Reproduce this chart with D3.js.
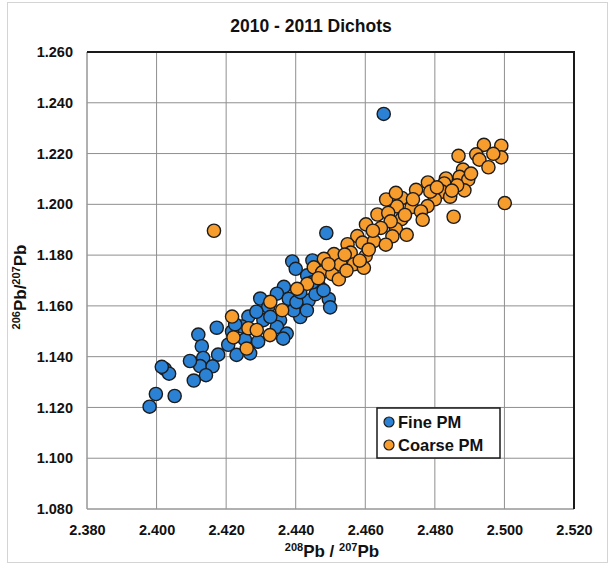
<!DOCTYPE html>
<html>
<head>
<meta charset="utf-8">
<script src="https://cdn.jsdelivr.net/npm/d3@7"></script>
<style>
  html, body { margin: 0; padding: 0; background: #fff; }
  svg { display: block; }
  text { font-family: "Liberation Sans", Arial, sans-serif; font-weight: bold; fill: #111; }
</style>
</head>
<body>
<svg id="chart" width="613" height="569"></svg>
<script>
// Pb isotope ratios, 2010 - 2011 Dichot samples
const fineX = [2.4653, 2.4488, 2.4390, 2.4400, 2.4448, 2.4433, 2.4466, 2.4366, 2.4346, 2.4298,
  2.4380, 2.4437, 2.4495, 2.4499, 2.4413, 2.4394, 2.4432, 2.4355, 2.4346, 2.4374,
  2.4364, 2.4307, 2.4264, 2.4245, 2.4173, 2.4120, 2.4130, 2.4206, 2.4230, 2.4177,
  2.4134, 2.4269, 2.4125, 2.4161, 2.4142, 2.4107, 2.4024, 2.4036, 2.4015, 2.3998,
  2.4052, 2.3980, 2.4321, 2.4287, 2.4402, 2.4457, 2.4480, 2.4327, 2.4254, 2.4292,
  2.4217, 2.4413, 2.4448, 2.4226, 2.4096];
const fineY = [1.2356, 1.1887, 1.1775, 1.1746, 1.1779, 1.1720, 1.1680, 1.1675, 1.1648, 1.1629,
  1.1628, 1.1621, 1.1627, 1.1594, 1.1556, 1.1582, 1.1582, 1.1544, 1.1517, 1.1491,
  1.1471, 1.1544, 1.1558, 1.1519, 1.1514, 1.1487, 1.1441, 1.1447, 1.1407, 1.1408,
  1.1395, 1.1413, 1.1363, 1.1362, 1.1327, 1.1306, 1.1351, 1.1333, 1.1360, 1.1253,
  1.1245, 1.1203, 1.1596, 1.1577, 1.1615, 1.1646, 1.1661, 1.1557, 1.1467, 1.1459,
  1.1499, 1.1654, 1.1693, 1.1527, 1.1383];

const coarseX = [2.4165, 2.4635, 2.4602, 2.4577, 2.4549, 2.4558, 2.4592, 2.4601, 2.4567, 2.4596,
  2.4625, 2.4510, 2.4481, 2.4452, 2.4476, 2.4505, 2.4524, 2.4433, 2.4404, 2.4327,
  2.4361, 2.4217, 2.4264, 2.4288, 2.4326, 2.4221, 2.4259, 2.4941, 2.4991, 2.4919,
  2.4928, 2.4954, 2.4991, 2.4868, 2.4881, 2.4871, 2.4896, 2.4885, 2.4864, 2.4832,
  2.4827, 2.4821, 2.4844, 2.4800, 2.4780, 2.4746, 2.4787, 2.4779, 2.4733, 2.4760,
  2.4765, 2.4705, 2.4691, 2.4704, 2.4688, 2.4719, 2.4666, 2.4660, 2.4673, 2.4678,
  2.4659, 2.4854, 2.5001, 2.4645, 2.4622, 2.4610, 2.4529, 2.4546, 2.4494, 2.4465,
  2.4714, 2.4737, 2.4806, 2.4849, 2.4904, 2.4968, 2.4688, 2.4584, 2.4541];
const coarseY = [1.1896, 1.1960, 1.1921, 1.1875, 1.1843, 1.1810, 1.1849, 1.1796, 1.1764, 1.1750,
  1.1855, 1.1804, 1.1785, 1.1752, 1.1732, 1.1725, 1.1705, 1.1687, 1.1667, 1.1616,
  1.1583, 1.1558, 1.1512, 1.1505, 1.1485, 1.1476, 1.1432, 1.2234, 1.2231, 1.2197,
  1.2176, 1.2146, 1.2185, 1.2191, 1.2137, 1.2108, 1.2097, 1.2055, 1.2075, 1.2102,
  1.2082, 1.2050, 1.2030, 1.2020, 1.2086, 1.2057, 1.2050, 1.1993, 1.1989, 1.1972,
  1.1939, 1.2025, 1.1992, 1.1942, 1.1903, 1.1880, 1.1966, 1.2019, 1.1933, 1.1874,
  1.1841, 1.1951, 1.2005, 1.1907, 1.1896, 1.1822, 1.1763, 1.1739, 1.1764, 1.1709,
  1.1958, 1.2020, 1.2067, 1.2054, 1.2121, 1.2199, 1.2045, 1.1778, 1.1802];

const xTicks = [2.38, 2.40, 2.42, 2.44, 2.46, 2.48, 2.50, 2.52];
const yTicks = [1.08, 1.10, 1.12, 1.14, 1.16, 1.18, 1.20, 1.22, 1.24, 1.26];

const seriesNames = ["Fine PM", "Coarse PM"];
const seriesColors = ["#2b82d4", "#f79d2e"];

const svg = d3.select("#chart");
const plotL = 87, plotR = 574, plotT = 52, plotB = 509;

const x = d3.scaleLinear().domain([2.38, 2.52]).range([plotL, plotR]);
const y = d3.scaleLinear().domain([1.08, 1.26]).range([plotB, plotT]);
const fmt = d3.format(".3f");

// faint outer chart frame
svg.append("rect")
  .attr("x", 7.5).attr("y", 2.5).attr("width", 600).attr("height", 560)
  .attr("fill", "none").attr("stroke", "#d4d4d4").attr("stroke-width", 1);

// title
svg.append("text")
  .attr("x", 311).attr("y", 32)
  .attr("text-anchor", "middle")
  .style("font-size", "17.5px")
  .text("2010 - 2011 Dichots");

// grid lines
const grid = svg.append("g");
grid.selectAll("line.v").data(xTicks).join("line")
  .attr("x1", d => x(d)).attr("x2", d => x(d))
  .attr("y1", plotT).attr("y2", plotB)
  .attr("stroke", "#8f8f8f").attr("stroke-width", 1);
grid.selectAll("line.h").data(yTicks).join("line")
  .attr("x1", plotL).attr("x2", plotR)
  .attr("y1", d => y(d)).attr("y2", d => y(d))
  .attr("stroke", "#8f8f8f").attr("stroke-width", 1);

// plot frame: light left/bottom, dark top/right
svg.append("line").attr("x1", plotL).attr("x2", plotL).attr("y1", plotT).attr("y2", plotB)
  .attr("stroke", "#9a9a9a").attr("stroke-width", 1);
svg.append("line").attr("x1", plotL).attr("x2", plotR).attr("y1", plotB).attr("y2", plotB)
  .attr("stroke", "#9a9a9a").attr("stroke-width", 1);
svg.append("line").attr("x1", plotL).attr("x2", plotR + 1).attr("y1", plotT).attr("y2", plotT)
  .attr("stroke", "#1a1a1a").attr("stroke-width", 2);
svg.append("line").attr("x1", plotR).attr("x2", plotR).attr("y1", plotT).attr("y2", plotB)
  .attr("stroke", "#1a1a1a").attr("stroke-width", 2);

// axes (labels only)
const xAxis = svg.append("g")
  .attr("transform", `translate(0,${plotB + 10})`)
  .call(d3.axisBottom(x).tickValues(xTicks).tickFormat(fmt).tickSize(0).tickPadding(6));
const yAxis = svg.append("g")
  .attr("transform", `translate(${plotL - 14},0)`)
  .call(d3.axisLeft(y).tickValues(yTicks).tickFormat(fmt).tickSize(0).tickPadding(0));
[xAxis, yAxis].forEach(g => {
  g.select(".domain").remove();
  g.selectAll("text")
    .style("font-family", '"Liberation Sans", Arial, sans-serif')
    .style("font-weight", "bold")
    .style("font-size", "14.5px")
    .attr("fill", "#111");
});

// axis titles with superscript mass numbers
const xt = svg.append("text")
  .attr("x", 332).attr("y", 557)
  .attr("text-anchor", "middle")
  .style("font-size", "17px");
xt.append("tspan").attr("dy", -6).style("font-size", "11px").text("208");
xt.append("tspan").attr("dy", 6).text("Pb / ");
xt.append("tspan").attr("dy", -6).style("font-size", "11px").text("207");
xt.append("tspan").attr("dy", 6).text("Pb");

const yt = svg.append("text")
  .attr("transform", "translate(26,287) rotate(-90)")
  .attr("text-anchor", "middle")
  .style("font-size", "17px");
yt.append("tspan").attr("dy", -6).style("font-size", "11px").text("206");
yt.append("tspan").attr("dy", 6).text("Pb/");
yt.append("tspan").attr("dy", -6).style("font-size", "11px").text("207");
yt.append("tspan").attr("dy", 6).text("Pb");

// data points
const fine = fineX.map((v, i) => ({ x: v, y: fineY[i] }));
const coarse = coarseX.map((v, i) => ({ x: v, y: coarseY[i] }));
[fine, coarse].forEach((pts, s) => {
  svg.append("g").selectAll("circle").data(pts).join("circle")
    .attr("cx", d => x(d.x))
    .attr("cy", d => y(d.y))
    .attr("r", 6.6)
    .attr("fill", seriesColors[s])
    .attr("stroke", "#1c1c1c")
    .attr("stroke-width", 1.4);
});

// legend
const lg = svg.append("g").attr("transform", "translate(377,408)");
lg.append("rect").attr("x", 0).attr("y", 0).attr("width", 123).attr("height", 50)
  .attr("fill", "#fff").attr("stroke", "#1a1a1a").attr("stroke-width", 1.5);
seriesNames.forEach((name, i) => {
  lg.append("circle").attr("cx", 12).attr("cy", 14 + i * 23).attr("r", 5)
    .attr("fill", seriesColors[i]).attr("stroke", "#1c1c1c").attr("stroke-width", 1.2);
  lg.append("text").attr("x", 21).attr("y", 20 + i * 23)
    .style("font-size", "16.5px").text(name);
});
</script>
</body>
</html>
